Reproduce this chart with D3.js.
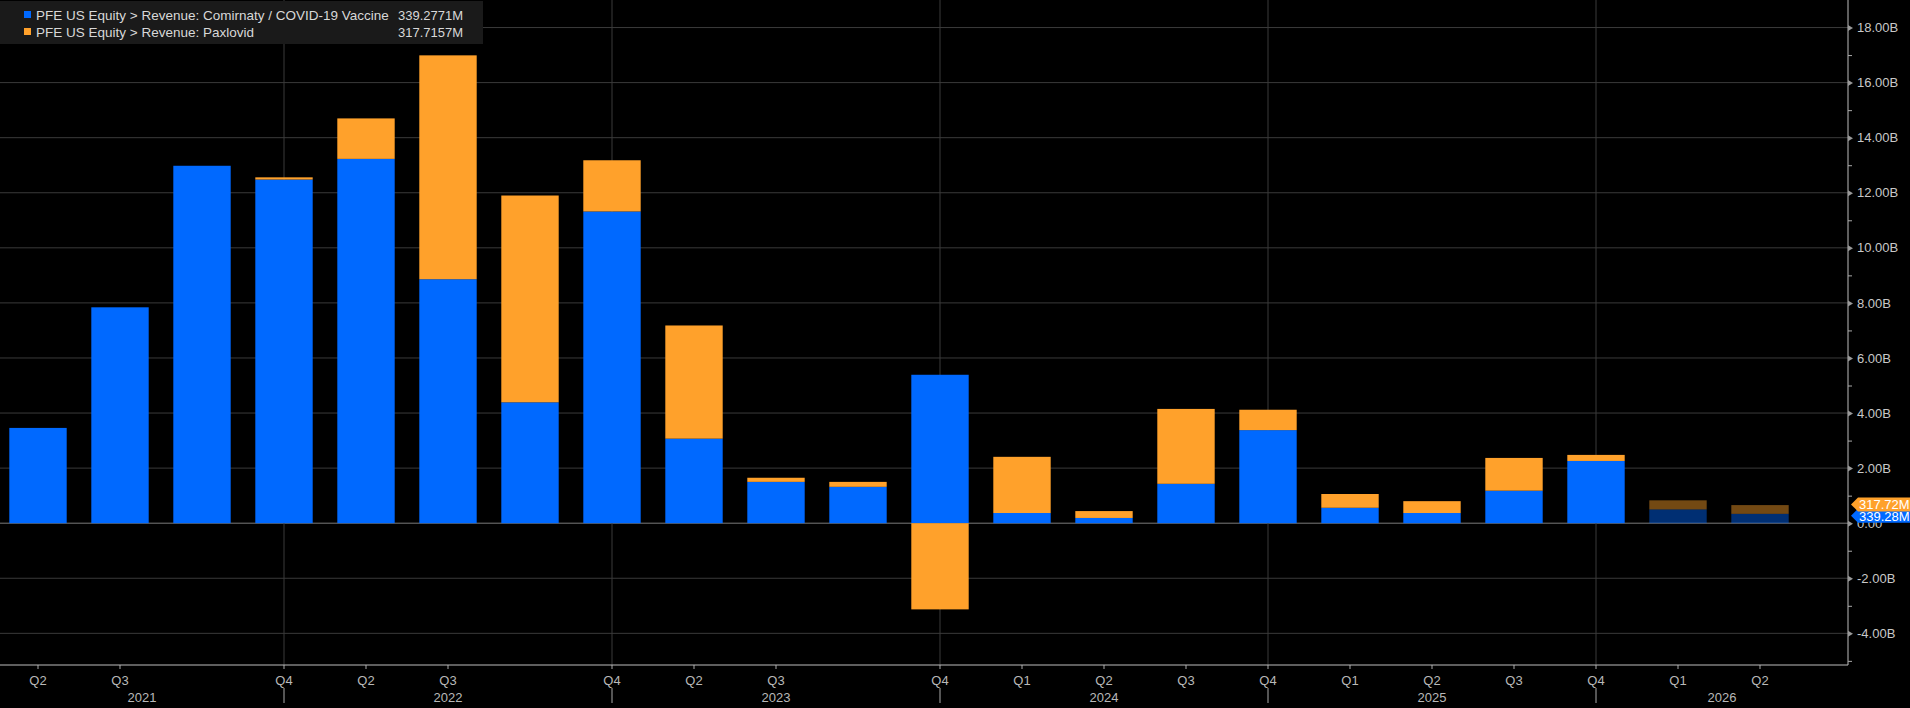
<!DOCTYPE html>
<html>
<head>
<meta charset="utf-8">
<script src="https://cdn.jsdelivr.net/npm/d3@7"></script>
<style>
  html, body { margin: 0; padding: 0; background: #000; }
  svg text { font-family: "Liberation Sans", Arial, sans-serif; }
</style>
</head>
<body>
<div id="svg-container"></div>
<script>
// chart data (billions USD)
var categories = ["Q1 2021", "Q2 2021", "Q3 2021", "Q4 2021",
                  "Q1 2022", "Q2 2022", "Q3 2022", "Q4 2022",
                  "Q1 2023", "Q2 2023", "Q3 2023", "Q4 2023",
                  "Q1 2024", "Q2 2024", "Q3 2024", "Q4 2024",
                  "Q1 2025", "Q2 2025", "Q3 2025", "Q4 2025",
                  "Q1 2026", "Q2 2026"];
var comirnaty  = [3.46, 7.84, 12.98, 12.48, 13.23, 8.86, 4.39, 11.32, 3.07, 1.50, 1.32, 5.39,
                  0.37, 0.19, 1.43, 3.38, 0.56, 0.37, 1.18, 2.26, 0.50, 0.339];
var paxlovid   = [0, 0, 0, 0.08, 1.47, 8.13, 7.51, 1.86, 4.11, 0.15, 0.18, -3.13,
                  2.04, 0.25, 2.72, 0.74, 0.50, 0.43, 1.19, 0.22, 0.33, 0.318];
var tickLabels = ["Q2", "Q3", "", "Q4", "Q2", "Q3", "", "Q4", "Q2", "Q3", "", "Q4",
                  "Q1", "Q2", "Q3", "Q4", "Q1", "Q2", "Q3", "Q4", "Q1", "Q2"];
var years      = ["2021", "2022", "2023", "2024", "2025", "2026"];
var yearBreaks = ["Q4 2021", "Q4 2022", "Q4 2023", "Q4 2024", "Q4 2025"];
var yTicks     = [-4, -2, 0, 2, 4, 6, 8, 10, 12, 14, 16, 18];
var yMinor     = [-5, -3, -1, 1, 3, 5, 7, 9, 11, 13, 15, 17];
var firstEstimate = "Q1 2026";
var seriesNames = ["PFE US Equity > Revenue: Comirnaty / COVID-19 Vaccine",
                   "PFE US Equity > Revenue: Paxlovid"];
var lastValues  = ["339.2771M", "317.7157M"];
var tagValues   = ["339.28M", "317.72M"];

// layout
var svgWidth   = 1910;
var svgHeight  = 708;
var plotRight  = 1848;
var plotBottom = 665;
var blue   = "#0069ff";
var orange = "#ffa12b";

var x = d3.scaleBand()
          .domain(categories)
          .range([-3, 1801])
          .paddingInner(0.3)
          .paddingOuter(0.15);

var y = d3.scaleLinear()
          .domain([-5.15, 19])
          .range([plotBottom, 0]);

var svg = d3.select("#svg-container")
            .append("svg")
            .attr("width", svgWidth)
            .attr("height", svgHeight);

svg.append("rect")
   .attr("width", svgWidth)
   .attr("height", svgHeight)
   .attr("fill", "#000");

// horizontal grid
svg.append("g")
   .selectAll("line")
   .data(yTicks)
   .enter()
     .append("line")
     .attr("x1", 0)
     .attr("x2", plotRight)
     .attr("y1", function(d) { return y(d); })
     .attr("y2", function(d) { return y(d); })
     .attr("stroke", function(d) { return d === 0 ? "#7a7a7a" : "#3a3a3a"; })
     .attr("stroke-width", 1);

// vertical grid at year breaks
svg.append("g")
   .selectAll("line")
   .data(yearBreaks)
   .enter()
     .append("line")
     .attr("x1", function(d) { return x(d) + x.bandwidth() / 2; })
     .attr("x2", function(d) { return x(d) + x.bandwidth() / 2; })
     .attr("y1", 0)
     .attr("y2", plotBottom)
     .attr("stroke", "#3a3a3a");

// stacked bars
var rows = categories.map(function(c, i) {
  return { cat: c, comirnaty: comirnaty[i], paxlovid: paxlovid[i] };
});
var stack = d3.stack()
              .keys(["comirnaty", "paxlovid"])
              .offset(d3.stackOffsetDiverging);
var layers = stack(rows);
var estIndex = categories.indexOf(firstEstimate);

svg.append("g")
   .selectAll("g")
   .data(layers)
   .enter()
     .append("g")
     .attr("fill", function(d, i) { return i === 0 ? blue : orange; })
   .selectAll("rect")
   .data(function(d) { return d; })
   .enter()
     .append("rect")
     .attr("x", function(d) { return x(d.data.cat); })
     .attr("width", x.bandwidth())
     .attr("y", function(d) { return y(Math.max(d[0], d[1])); })
     .attr("height", function(d) { return Math.abs(y(d[0]) - y(d[1])); })
     .attr("opacity", function(d, i) { return i >= estIndex ? 0.45 : 1; });

// bottom axis
var xAxis = d3.axisBottom(x)
              .tickSize(4)
              .tickFormat(function(d, i) { return tickLabels[i]; });
var xg = svg.append("g")
            .attr("transform", "translate(0," + plotBottom + ")")
            .call(xAxis);
xg.select(".domain").remove();
xg.selectAll(".tick line").attr("stroke", "#aaa")
  .attr("opacity", function(d, i) { return tickLabels[i] ? 1 : 0; });
xg.selectAll(".tick text")
  .attr("fill", "#b8b8b8")
  .attr("font-size", 13)
  .attr("dy", 0)
  .attr("y", 20);

svg.append("line")
   .attr("x1", 0).attr("x2", plotRight)
   .attr("y1", plotBottom).attr("y2", plotBottom)
   .attr("stroke", "#bdbdbd");

// year separators and labels
var breakX = yearBreaks.map(function(d) { return x(d) + x.bandwidth() / 2; });
svg.append("g")
   .selectAll("line")
   .data(breakX)
   .enter()
     .append("line")
     .attr("x1", function(d) { return d; })
     .attr("x2", function(d) { return d; })
     .attr("y1", 688)
     .attr("y2", 703)
     .attr("stroke", "#aaa");

var edges = [0].concat(breakX).concat([plotRight]);
svg.append("g")
   .selectAll("text")
   .data(years)
   .enter()
     .append("text")
     .attr("x", function(d, i) { return (edges[i] + edges[i + 1]) / 2; })
     .attr("y", 702)
     .attr("text-anchor", "middle")
     .attr("font-size", 13)
     .attr("fill", "#b8b8b8")
     .text(function(d) { return d; });

// right axis
svg.append("line")
   .attr("x1", plotRight).attr("x2", plotRight)
   .attr("y1", 0).attr("y2", plotBottom)
   .attr("stroke", "#bdbdbd");

var minorAxis = d3.axisRight(y).tickValues(yMinor).tickSize(4).tickFormat("");
var mg = svg.append("g").attr("transform", "translate(" + plotRight + ",0)").call(minorAxis);
mg.select(".domain").remove();
mg.selectAll(".tick line").attr("stroke", "#aaa");

var yAxis = d3.axisRight(y)
              .tickValues(yTicks)
              .tickSize(0)
              .tickPadding(9)
              .tickFormat(function(d) { return d === 0 ? "0.00" : d.toFixed(2) + "B"; });
var yg = svg.append("g").attr("transform", "translate(" + plotRight + ",0)").call(yAxis);
yg.select(".domain").remove();
yg.selectAll(".tick text").attr("fill", "#c8c8c8").attr("font-size", 13);
yg.selectAll(".tick")
  .append("path")
  .attr("d", "M0,-3L5,0L0,3Z")
  .attr("fill", "#999");

// last value tags
function tag(value, label, color, dy) {
  var cy = y(value) + dy;
  var g = svg.append("g").attr("transform", "translate(" + (plotRight + 3) + "," + cy + ")");
  g.append("path")
   .attr("d", "M0,0L7,-7L59,-7L59,7L7,7Z")
   .attr("fill", color);
  g.append("text")
   .attr("x", 8)
   .attr("y", 5)
   .attr("font-size", 13)
   .attr("fill", "#fff")
   .text(label);
}
tag(comirnaty[comirnaty.length - 1], tagValues[0], blue, 2);
tag(paxlovid[paxlovid.length - 1], tagValues[1], orange, -10);

// legend
var legend = svg.append("g");
legend.append("rect")
      .attr("x", 0).attr("y", 1)
      .attr("width", 483).attr("height", 43)
      .attr("fill", "#1a1a1a");
var items = legend.selectAll("g.item")
      .data(seriesNames)
      .enter()
        .append("g")
        .attr("transform", function(d, i) { return "translate(0," + (15 + i * 17) + ")"; });
items.append("rect")
     .attr("x", 24).attr("y", -4)
     .attr("width", 7).attr("height", 7)
     .attr("fill", function(d, i) { return i === 0 ? blue : orange; });
items.append("text")
     .attr("x", 36).attr("y", 5)
     .attr("font-size", 13.5)
     .attr("fill", "#d8d8d8")
     .text(function(d) { return d; });
items.append("text")
     .attr("x", 463).attr("y", 5)
     .attr("text-anchor", "end")
     .attr("font-size", 13)
     .attr("fill", "#d8d8d8")
     .text(function(d, i) { return lastValues[i]; });
</script>
</body>
</html>
